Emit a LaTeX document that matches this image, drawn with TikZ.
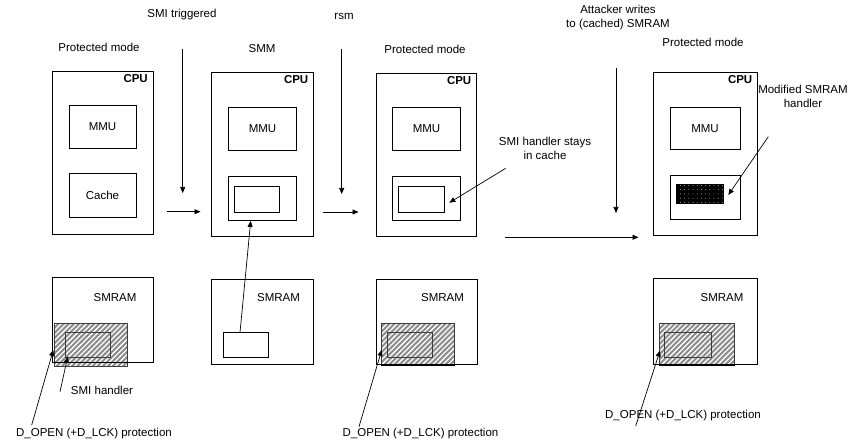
\documentclass[tikz,border=0pt]{standalone}
\usepackage{fontspec}
\setmainfont{Liberation Sans}
\usetikzlibrary{arrows.meta,patterns.meta}

\definecolor{hatchgray}{RGB}{140,140,140}
\definecolor{edgegray}{RGB}{60,60,60}

\tikzset{
  every node/.style={font=\fontsize{11.5}{14}\selectfont},
  box/.style={draw=black, line width=0.8pt, inner sep=0pt, outer sep=0pt, anchor=north west},
  hatched/.style={draw=edgegray, line width=0.8pt, inner sep=0pt, outer sep=0pt, anchor=north west,
    preaction={fill=hatchgray},
    pattern={Lines[angle=45,distance=3.6pt,line width=1.3pt]}, pattern color=white},
  dotted box/.style={draw=black, line width=0.8pt, inner sep=0pt, outer sep=0pt, anchor=north west,
    preaction={fill=black},
    pattern={Dots[distance=4.2pt,radius=0.4pt]}, pattern color=white},
  innerbox/.style={draw=edgegray, line width=0.8pt, inner sep=0pt, outer sep=0pt, anchor=north west},
  lbl/.style={inner sep=0pt, align=center},
  cpulbl/.style={inner sep=0pt, anchor=north east, font=\fontsize{11.5}{14}\selectfont\bfseries},
  arr/.style={draw=black, line width=0.7pt, -{Triangle[length=6pt,width=5pt]}},
  thickedge/.style={draw=black, line width=2pt}
}

% rectangle node from its two corners: name, style, x1, y1, x2, y2
\newcommand{\rectnode}[6]{%
  \node[#2, minimum width={#5pt-#3pt}, minimum height={#6pt-#4pt}] (#1) at (#3,#4) {};}

\begin{document}
\begin{tikzpicture}[x=1pt,y=-1pt]
\useasboundingbox[fill=white] (0,0) rectangle (860,446);

% ---------- column 1: protected mode ----------
\node[lbl] (pm1) at (99,47) {Protected mode};
\rectnode{cpu1}{box}{52}{71}{153}{234}
\node[cpulbl] (cpu1l) at ([xshift=-5pt,yshift=-3pt]cpu1.north east) {CPU};
\rectnode{mmu1}{box}{69}{105}{136}{148}
\node[lbl] at (mmu1.center) {MMU};
\rectnode{cache1}{box}{69}{173}{136}{217}
\node[lbl] at (cache1.center) {Cache};

\rectnode{hatch1}{hatched}{54.5}{323.5}{127.5}{366}
\rectnode{smram1}{box}{52}{277}{153}{362.5}
\node[lbl] (smram1l) at (115,298) {SMRAM};
\rectnode{handler1}{innerbox}{65.5}{332.5}{110.5}{357.5}
\node[lbl] (hlbl) at (102,390) {SMI handler};
\node[lbl] (dopen1) at (94,434) {D\_OPEN (+D\_LCK) protection};

% ---------- column 2: SMM ----------
\node[lbl] (smitr) at (182,15) {SMI triggered};
\node[lbl] (smm) at (262,49) {SMM};
\rectnode{cpu2}{box}{211.5}{72.5}{313.5}{236}
\node[cpulbl] at ([xshift=-5pt,yshift=-3pt]cpu2.north east) {CPU};
\rectnode{mmu2}{box}{228.5}{107.5}{296.5}{150.5}
\node[lbl] at (mmu2.center) {MMU};
\rectnode{cache2}{box}{228.5}{176}{296.5}{220}
\rectnode{line2}{box}{234.5}{186}{279.5}{212}

\rectnode{smram2}{box}{211.5}{279}{313.5}{364.5}
\node[lbl] at (278.5,298) {SMRAM};
\rectnode{handler2}{box}{223.5}{332.5}{268.5}{357.5}

% ---------- column 3: protected mode after rsm ----------
\node[lbl] (rsm) at (344,16) {rsm};
\node[lbl] (pm3) at (425,49) {Protected mode};
\rectnode{cpu3}{box}{376}{73.5}{476.5}{236}
\node[cpulbl] at ([xshift=-5pt,yshift=-3pt]cpu3.north east) {CPU};
\rectnode{mmu3}{box}{392.5}{107.5}{460.5}{150}
\node[lbl] at (mmu3.center) {MMU};
\rectnode{cache3}{box}{392.5}{176}{460.5}{220.5}
\rectnode{line3}{box}{398}{186}{444}{212}
\node[lbl] (stays) at (545,148) {SMI handler stays\\in cache};

\rectnode{hatch3}{hatched}{381}{323.5}{454.5}{365.5}
\rectnode{smram3}{box}{376}{279.5}{477}{364.5}
\draw[thickedge] (hatch3.south west) -- (hatch3.south east);
\node[lbl] at (442.5,298) {SMRAM};
\rectnode{handler3}{innerbox}{387}{332}{432.5}{357.5}
\node[lbl] (dopen3) at (420.5,434) {D\_OPEN (+D\_LCK) protection};

% ---------- column 4: protected mode, modified handler ----------
\node[lbl] (attack) at (618,17.5) {Attacker writes\\to (cached) SMRAM};
\node[lbl] (pm4) at (703,42) {Protected mode};
\rectnode{cpu4}{box}{653.5}{72.5}{757.5}{235.5}
\node[cpulbl] at ([xshift=-5pt,yshift=-3pt]cpu4.north east) {CPU};
\rectnode{mmu4}{box}{670}{107}{740}{149.5}
\node[lbl] at (mmu4.center) {MMU};
\rectnode{cache4}{box}{670}{175}{740}{219}
\rectnode{line4}{dotted box}{676}{184.5}{723.5}{203.5}
\node[lbl] (modif) at (803,96.5) {Modified SMRAM\\handler};

\rectnode{hatch4}{hatched}{659}{323.5}{734.5}{365}
\rectnode{smram4}{box}{653.5}{278.5}{757.5}{364}
\draw[thickedge] (hatch4.south west) -- (hatch4.south east);
\node[lbl] at (722,298) {SMRAM};
\rectnode{handler4}{innerbox}{664.5}{332}{711.5}{357.5}
\node[lbl] (dopen4) at (683,416) {D\_OPEN (+D\_LCK) protection};

% ---------- free ends of the connectors ----------
\coordinate (smiA) at (182.7,49);   \coordinate (smiB) at (182.7,193);
\coordinate (h1A) at (166.5,211.7); \coordinate (h1B) at (200.5,211.7);
\coordinate (rsmA) at (341.7,49);   \coordinate (rsmB) at (341.7,194);
\coordinate (h2A) at (323,212);     \coordinate (h2B) at (358.5,212);
\coordinate (h3A) at (505,237.3);   \coordinate (h3B) at (638.5,237.3);
\coordinate (attA) at (616,68);     \coordinate (attB) at (616,213);
\coordinate (upA) at (240,332.5);   \coordinate (upB) at (250.7,221);
\coordinate (stA) at (505.7,168.3); \coordinate (stB) at (449.3,202.7);
\coordinate (mdA) at (768.3,136.7); \coordinate (mdB) at (728.3,195);
\coordinate (hlA) at (60,391.7);    \coordinate (hlB) at (67.7,356.7);
\coordinate (d1A) at (31.7,425);    \coordinate (d1B) at (53.3,350);
\coordinate (d3A) at (359,426.7);   \coordinate (d3B) at (381.7,350);
\coordinate (d4A) at (635.7,426);   \coordinate (d4B) at (660,350.7);

% ---------- connectors ----------
\draw[arr] (smiA) -- (smiB);
\draw[arr] (h1A) -- (h1B);
\draw[arr] (rsmA) -- (rsmB);
\draw[arr] (h2A) -- (h2B);
\draw[arr] (h3A) -- (h3B);
\draw[arr] (attA) -- (attB);
\draw[arr] (upA) -- (upB);
\draw[arr] (stA) -- (stB);
\draw[arr] (mdA) -- (mdB);
\draw[arr] (hlA) -- (hlB);
\draw[arr] (d1A) -- (d1B);
\draw[arr] (d3A) -- (d3B);
\draw[arr] (d4A) -- (d4B);
\end{tikzpicture}
\end{document}
